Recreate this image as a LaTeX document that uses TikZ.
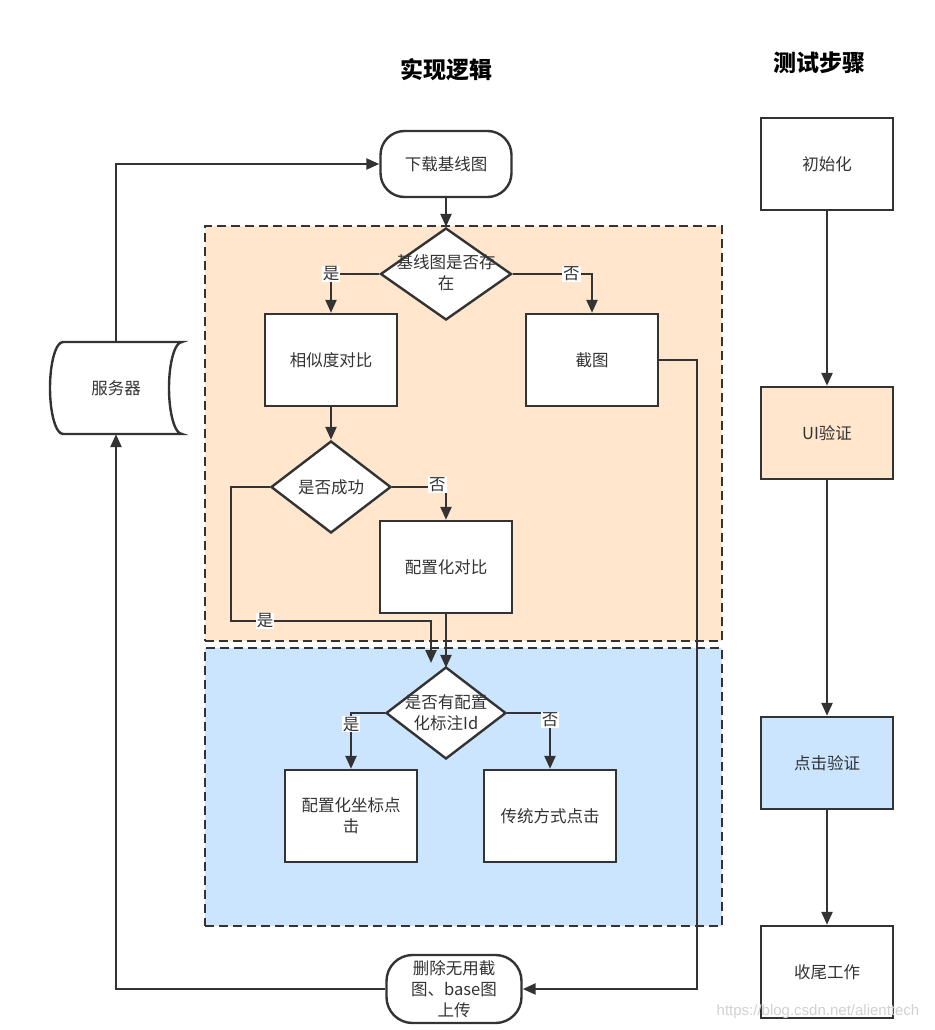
\documentclass[tikz,border=0pt]{standalone}
\usepackage{fontspec}
\setmainfont{Noto Sans CJK SC}
\newfontfamily\wmfont{Liberation Sans}
\usetikzlibrary{arrows.meta,shapes.geometric}
\definecolor{ln}{HTML}{333333}
\definecolor{org}{HTML}{FFE6CC}
\definecolor{blu}{HTML}{CCE5FF}
\begin{document}
\begin{tikzpicture}[x=1pt,y=-1pt,
  every node/.style={font=\fontsize{16.5}{21}\selectfont, text=ln},
  box/.style={draw=ln, line width=2.4pt, fill=white, minimum width=132pt, minimum height=92pt, inner sep=2pt, align=center},
  term/.style={draw=ln, line width=2.4pt, fill=white, rounded corners=24pt, minimum width=131pt, minimum height=66pt, inner sep=2pt, align=center},
  dia/.style={diamond, draw=ln, line width=2.4pt, fill=white, minimum width=120pt, minimum height=92pt, inner sep=0pt},
  dtext/.style={align=center, inner sep=0pt},
  region/.style={draw=ln, line width=2.4pt, dash pattern=on 9pt off 5pt, minimum width=517pt},
  conn/.style={draw=ln, line width=2.4pt, -{Triangle[length=13pt,width=11pt]}},
  lab/.style={fill=white, inner sep=1pt},
  title/.style={font=\fontsize{23}{27}\selectfont\bfseries, text=black}]
\useasboundingbox (0,0) rectangle (934,1030);
\fill[white] (0,0) rectangle (934,1030);

% titles
\node[title] (t1) at (446,70) {实现逻辑};
\node[title] (t2) at (819,63) {测试步骤};

% regions
\node[region, fill=org, minimum height=415pt] (rg1) at (463.5,433.5) {};
\node[region, fill=blu, minimum height=278pt] (rg2) at (463.5,787) {};

% left flow
\node[term] (dl) at (446,164) {下载基线图};
\node[dia, minimum width=131pt] (d1) at (446,274) {};
\node[dtext] (d1t) at (446,273) {基线图是否存\\在};
\node[box] (sim) at (331,360) {相似度对比};
\node[box] (jt) at (592,360) {截图};
\node[dia] (d2) at (331,487) {};
\node[dtext] (d2t) at (331,487) {是否成功};
\node[box] (cfg) at (446,567) {配置化对比};
\node[dia] (d3) at (446,713) {};
\node[dtext] (d3t) at (446,713) {是否有配置\\化标注Id};
\node[box] (pt) at (351,816) {配置化坐标点\\击};
\node[box] (tr) at (550,816) {传统方式点击};
\node[term, minimum width=135pt, minimum height=68pt, rounded corners=26pt] (del) at (454,989) {删除无用截\\图、base图\\上传};

% server (stored data)
\draw[ln, line width=2.4pt, fill=white] (63,342) arc[start angle=270, end angle=90, x radius=13, y radius=46]
  -- (182,434) arc[start angle=90, end angle=270, x radius=13, y radius=46] -- cycle;
\node[minimum width=132pt, minimum height=92pt, inner sep=0pt] (srv) at (116,388) {服务器};

% right column
\node[box] (init) at (827,164) {初始化};
\node[box, fill=org] (ui) at (827,433) {UI验证};
\node[box, fill=blu] (clk) at (827,763) {点击验证};
\node[box] (fin) at (827,972) {收尾工作};

% helper coordinates
\coordinate (c1) at (231,621);
\coordinate (c2) at (431,663);
\coordinate (c3) at (697,989);

% connectors
\draw[conn] (dl.south) -- (d1.north);
\draw[conn] (d1.west) -| node[lab, pos=0.5] {是} (sim.north);
\draw[conn] (d1.east) -| node[lab, pos=0.37] {否} (jt.north);
\draw[conn] (sim.south) -- (d2.north);
\draw[conn] (d2.east) -| node[lab, pos=0.42, yshift=2pt] {否} (cfg.north);
\draw[conn] (d2.west) -| (c1) -| node[lab, pos=0.085] {是} (c2);
\draw[conn] (cfg.south) -- ([yshift=-2pt]d3.north);
\draw[conn] (d3.west) -| node[lab, pos=0.6] {是} (pt.north);
\draw[conn] (d3.east) -| node[lab, pos=0.56] {否} (tr.north);
\draw[conn] (jt.east) -| (c3) -- (del.east);
\draw[conn] (del.west) -| (srv.south);
\draw[conn] (srv.north) |- (dl.west);

\draw[conn] (init.south) -- (ui.north);
\draw[conn] (ui.south) -- (clk.north);
\draw[conn] (clk.south) -- (fin.north);

% watermark
\node[font=\wmfont\fontsize{15}{18}\selectfont, text=black!18] (wm) at (818,1012) {https://blog.csdn.net/alienttech};
\end{tikzpicture}
\end{document}
